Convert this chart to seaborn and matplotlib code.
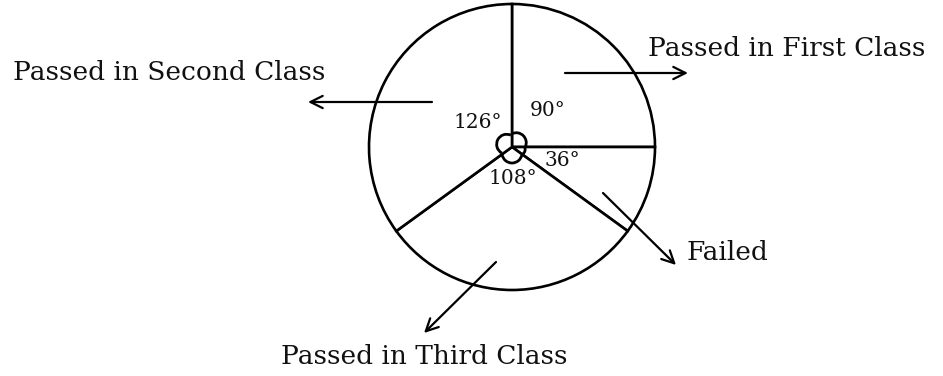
import numpy as np
import seaborn as sns
import matplotlib.pyplot as plt
from matplotlib.patches import Arc

# === Data: angles of the pie chart (degrees) ===
categories = ["Passed in First Class", "Failed", "Passed in Third Class", "Passed in Second Class"]
angles = [90, 36, 108, 126]

sns.set_theme(style="white")
plt.rcParams['font.family'] = ['DejaVu Serif']

W, H = 943, 376
fig = plt.figure(figsize=(W / 100, H / 100), dpi=100)
ax = fig.add_axes([0, 0, 1, 1])

def py(y):
    # image pixel row -> data y
    return H - y

cx, cy, r = 512, py(147), 143

ax.pie(angles, startangle=90, counterclock=False, center=(cx, cy), radius=r,
       wedgeprops=dict(facecolor='white', edgecolor='black', linewidth=1.9))
ax.set_xlim(0, W)
ax.set_ylim(0, H)
ax.set_aspect('equal')
ax.axis('off')

# small angle marks at the centre (cloverleaf-like lobes)
start = 90
for a in angles:
    t1 = start - a
    mid = np.deg2rad((start + t1) / 2)
    off = 6 if a > 40 else 7
    size = 20 if a > 40 else 13
    ax.add_patch(Arc((cx + off * np.cos(mid), cy + off * np.sin(mid)), size, size,
                     theta1=t1 - 25, theta2=start + 25, color='black', lw=2))
    start = t1

# angle labels
angle_pos = [(548, 111), (562, 160), (513, 178), (478, 123)]
for a, (x, y) in zip(angles, angle_pos):
    ax.text(x, py(y), f"{a}°", ha='center', va='center', fontsize=14.5, color='#111111')

# category labels with arrows
label_pos = {
    "Passed in First Class": (787, 48),
    "Failed": (727, 253),
    "Passed in Third Class": (424, 356),
    "Passed in Second Class": (169, 73),
}
for name, (x, y) in label_pos.items():
    ax.text(x, py(y), name, ha='center', va='center', fontsize=19, color='#111111')

arrows = {
    "Passed in First Class": ((565, 73), (688, 73)),
    "Failed": ((603, 193), (676, 265)),
    "Passed in Third Class": ((496, 262), (424, 333)),
    "Passed in Second Class": ((432, 102), (308, 102)),
}
for name, ((x0, y0), (x1, y1)) in arrows.items():
    ax.annotate("", xy=(x1, py(y1)), xytext=(x0, py(y0)),
                arrowprops=dict(arrowstyle='->', color='black', lw=1.6,
                                mutation_scale=22, shrinkA=0, shrinkB=0))

fig.savefig("out.png", dpi=100, facecolor='white')
